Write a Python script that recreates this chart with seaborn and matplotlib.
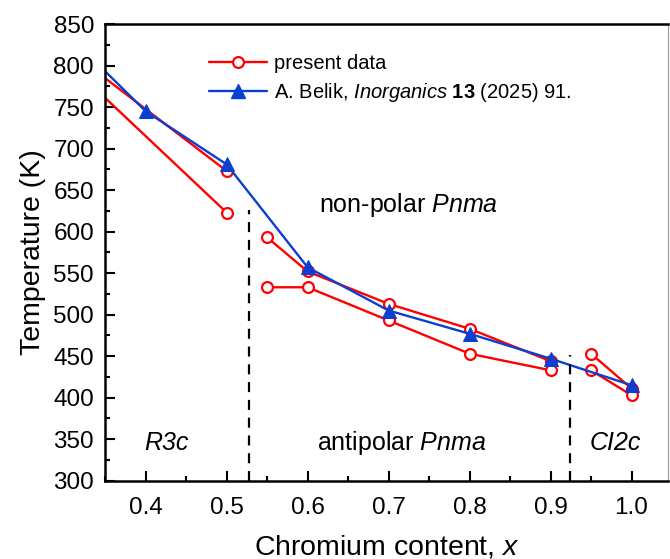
import pandas as pd
import seaborn as sns
import matplotlib.pyplot as plt
from matplotlib.lines import Line2D
from matplotlib.ticker import MultipleLocator

# present data, split in branches (points at x=0.3 lie outside the axes)
branch_x = [
    [0.3, 0.5],
    [0.3, 0.5],
    [0.55, 0.6, 0.7, 0.8, 0.9],
    [0.55, 0.6, 0.7, 0.8, 0.9],
    [0.95, 1.0],
    [0.95, 1.0],
]
branch_t = [
    [822, 673],
    [807, 623],
    [593, 552, 513, 483, 444],
    [533, 533, 493, 453, 433],
    [453, 411],
    [433, 403],
]

# A. Belik, Inorganics 13 (2025) 91
belik_x = [0.3, 0.4, 0.5, 0.6, 0.7, 0.8, 0.9, 1.0]
belik_t = [841, 745, 681, 557, 505, 477, 447, 415]

# phase boundaries
bound_x = [0.527, 0.924]
bound_top = [626, 451]

red = '#ff0000'
blue = '#0a3fd0'

rows = []
for i, (xs, ts) in enumerate(zip(branch_x, branch_t)):
    for x, t in zip(xs, ts):
        rows.append({'branch': i, 'x': x, 'T': t})
present_df = pd.DataFrame(rows)
belik_df = pd.DataFrame({'x': belik_x, 'T': belik_t})

sns.set_theme(style='ticks')
plt.rcParams['font.family'] = ['Liberation Sans', 'DejaVu Sans']
plt.rcParams['mathtext.fontset'] = 'custom'
plt.rcParams['mathtext.rm'] = 'Liberation Sans'
plt.rcParams['mathtext.it'] = 'Liberation Sans:italic'
plt.rcParams['mathtext.bf'] = 'Liberation Sans:bold'
for key in ['text.color', 'axes.labelcolor', 'xtick.color', 'ytick.color']:
    plt.rcParams[key] = 'black'

fig = plt.figure(figsize=(6.7, 5.59), dpi=100)
ax = fig.add_axes([0.157, 0.14, 0.84, 0.817])

sns.lineplot(
    data=present_df, x='x', y='T', units='branch', estimator=None, sort=False,
    color=red, linewidth=1.7, marker='o', markersize=7.8,
    markerfacecolor='white', markeredgecolor=red, markeredgewidth=1.6,
    legend=False, ax=ax,
)
sns.lineplot(
    data=belik_df, x='x', y='T', sort=False,
    color=blue, linewidth=1.7, marker='^', markersize=10,
    markerfacecolor=blue, markeredgecolor=blue,
    legend=False, ax=ax,
)

for bx, bt in zip(bound_x, bound_top):
    ax.plot([bx, bx], [300, bt], color='black', linestyle=(0, (4.5, 3.5)), linewidth=1.6)

ax.text(0.725, 632, 'non-polar $\\mathit{Pnma}$', fontsize=18, ha='center', va='center')
ax.text(0.716, 346, 'antipolar $\\mathit{Pnma}$', fontsize=18, ha='center', va='center')
ax.text(0.425, 346, 'R3c', fontsize=18, ha='center', va='center', style='italic')
ax.text(0.98, 346, 'CI2c', fontsize=18, ha='center', va='center', style='italic')

ax.set_xlim(0.35, 1.045)
ax.set_ylim(300, 850)
ax.xaxis.set_major_locator(MultipleLocator(0.1))
ax.xaxis.set_minor_locator(MultipleLocator(0.05))
ax.yaxis.set_major_locator(MultipleLocator(50))
ax.yaxis.set_minor_locator(MultipleLocator(25))
ax.set_xticks([0.4, 0.5, 0.6, 0.7, 0.8, 0.9, 1.0])
ax.set_xticklabels(['0.4', '0.5', '0.6', '0.7', '0.8', '0.9', '1.0'])
ax.tick_params(which='both', direction='in', width=1.5, labelsize=17.5, color='black')
ax.tick_params(which='major', length=7)
ax.tick_params(axis='x', which='major', pad=12)
ax.tick_params(axis='y', which='major', pad=8)
ax.tick_params(which='minor', length=3.5)
for side in ['left', 'bottom', 'top']:
    ax.spines[side].set_linewidth(1.8)
    ax.spines[side].set_color('black')
ax.spines['right'].set_linewidth(0.8)
ax.spines['right'].set_color('#999999')

ax.set_xlabel('Chromium content, $\\mathit{x}$', fontsize=20.5, labelpad=10)
ax.set_ylabel('Temperature (K)', fontsize=20.5, labelpad=5)

handles = [
    Line2D([], [], color=red, linewidth=1.7, marker='o', markersize=7.8,
           markerfacecolor='white', markeredgecolor=red, markeredgewidth=1.6),
    Line2D([], [], color=blue, linewidth=1.7, marker='^', markersize=10,
           markerfacecolor=blue, markeredgecolor=blue),
]
labels = ['present data', 'A. Belik, $\\mathit{Inorganics}$ $\\mathbf{13}$ (2025) 91.']
ax.legend(handles, labels, loc='upper left', bbox_to_anchor=(0.17, 0.953),
          frameon=False, fontsize=14.5, handlelength=2.9, handletextpad=0.35,
          labelspacing=0.4, borderaxespad=0)

fig.savefig('out.png', dpi=100)
